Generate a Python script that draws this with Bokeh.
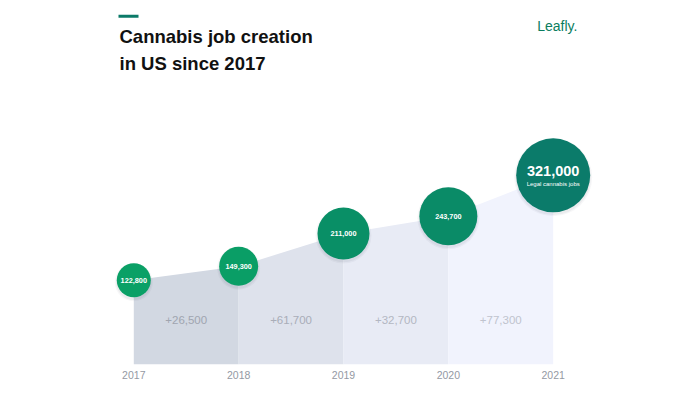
from bokeh.plotting import figure
from bokeh.models import Range1d, FixedTicker, Label, BoxAnnotation
from bokeh.core.properties import value
from bokeh.embed import file_html
from bokeh.resources import INLINE

# ---- data ----
YEARS = [2017, 2018, 2019, 2020, 2021]
JOBS = [122800, 149300, 211000, 243700, 321000]
JOB_LABELS = ["122,800", "149,300", "211,000", "243,700", "321,000"]
DELTA_LABELS = ["+26,500", "+61,700", "+32,700", "+77,300"]
HEADLINE_SUB = "Legal cannabis jobs"
TITLE_LINES = ["Cannabis job creation", "in US since 2017"]
BRAND = "Leafly."

# ---- styles ----
AREA_COLORS = ["#d2d8e2", "#dee2ec", "#e8ebf5", "#f1f3fd"]
DELTA_COLORS = ["#a0a5b0", "#a9adb8", "#b3b7c2", "#c0c3ce"]
CIRCLE_COLORS = ["#0aa066", "#0a9e66", "#098f66", "#0a8b67", "#0b7b6a"]
CIRCLE_SIZES = [34, 39, 52, 58, 74]
FONT = "Liberation Sans"

W, H = 684, 386
BASE = -36400
TOP = 651300
FRAME_H = H - 22
SHADOW_DROP = 2 * (TOP - BASE) / FRAME_H   # 2 px downwards, in data units

p = figure(width=W, height=H, output_backend="svg", toolbar_location=None,
           x_range=Range1d(2015.7287, 2022.2523), y_range=Range1d(BASE, TOP),
           y_axis_location=None, min_border_left=0, min_border_right=0,
           min_border_top=0, min_border_bottom=22)
p.outline_line_color = None
p.grid.visible = False
p.background_fill_color = "white"
p.border_fill_color = "white"

# x axis (years)
ax = p.xaxis[0]
ax.ticker = FixedTicker(ticks=YEARS)
ax.axis_line_color = None
ax.major_tick_line_color = None
ax.minor_tick_line_color = None
ax.major_tick_out = 0
ax.major_tick_in = 0
ax.major_label_standoff = 6
ax.major_label_text_font = FONT
ax.major_label_text_font_size = "10.5px"
ax.major_label_text_color = "#9499a3"

# area segments
for i in range(len(YEARS) - 1):
    p.varea(x=[YEARS[i], YEARS[i + 1]], y1=[BASE, BASE],
            y2=[JOBS[i], JOBS[i + 1]], fill_color=AREA_COLORS[i])

# delta labels
mids = [(YEARS[i] + YEARS[i + 1]) / 2 for i in range(len(YEARS) - 1)]
p.text(x=mids, y=[BASE] * len(mids), text=DELTA_LABELS, y_offset=-45,
       text_align="center", text_baseline="middle", text_color=DELTA_COLORS,
       text_font=value(FONT), text_font_size="11.5px")

# soft drop shadows + circles
shadow_y = [v - SHADOW_DROP for v in JOBS]
p.scatter(x=YEARS, y=shadow_y, size=[s + 4 for s in CIRCLE_SIZES],
          fill_color="#1a2a3a", fill_alpha=0.035, line_color=None)
p.scatter(x=YEARS, y=shadow_y, size=[s + 1.5 for s in CIRCLE_SIZES],
          fill_color="#1a2a3a", fill_alpha=0.05, line_color=None)
p.scatter(x=YEARS, y=JOBS, size=CIRCLE_SIZES, fill_color=CIRCLE_COLORS,
          line_color=None)

# circle labels
p.text(x=YEARS[:-1], y=JOBS[:-1], text=JOB_LABELS[:-1], text_align="center",
       text_baseline="middle", text_color="white", text_font=value(FONT),
       text_font_style="bold", text_font_size="7.3px")
p.text(x=YEARS[-1:], y=JOBS[-1:], text=JOB_LABELS[-1:], y_offset=-4,
       text_align="center", text_baseline="middle", text_color="white",
       text_font=value(FONT), text_font_style="bold", text_font_size="14.5px")
p.text(x=YEARS[-1:], y=JOBS[-1:], text=[HEADLINE_SUB], y_offset=8.5,
       text_align="center", text_baseline="middle", text_color="white",
       text_font=value(FONT), text_font_size="6px")

# title
p.add_layout(BoxAnnotation(left=118, right=138, top=349.7, bottom=346.7,
                           left_units="screen", right_units="screen",
                           top_units="screen", bottom_units="screen",
                           fill_color="#0b7a68", fill_alpha=1, line_color=None))
for line, yy in zip(TITLE_LINES, [328, 301.3]):
    p.add_layout(Label(x=119, y=yy, x_units="screen", y_units="screen",
                       text=line, text_font=FONT, text_font_style="bold",
                       text_font_size="18.5px", text_color="#111111",
                       text_baseline="alphabetic", text_align="left"))
p.add_layout(Label(x=536.7, y=338.7, x_units="screen", y_units="screen",
                   text=BRAND, text_font=FONT, text_font_size="14px",
                   text_color="#0b7d5e", text_baseline="alphabetic",
                   text_align="left"))

open("out.html", "w").write(file_html(p, INLINE))
